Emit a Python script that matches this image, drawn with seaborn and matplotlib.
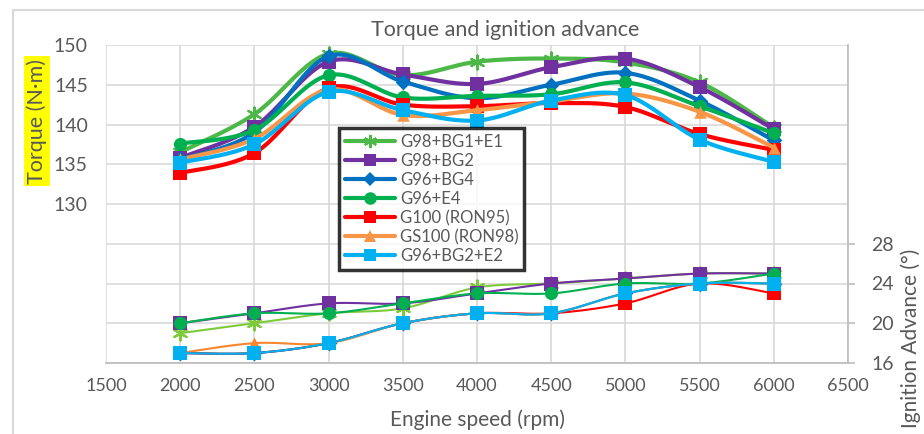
import numpy as np
import pandas as pd
import matplotlib
matplotlib.use("Agg")
import matplotlib.pyplot as plt
from matplotlib.lines import Line2D
import seaborn as sns

# ---------------- data ----------------
rpm = [2000, 2500, 3000, 3500, 4000, 4500, 5000, 5500, 6000]
series_names = ["G98+BG1+E1", "G98+BG2", "G96+BG4", "G96+E4",
                "G100 (RON95)", "GS100 (RON98)", "G96+BG2+E2"]

torque_g98_bg1_e1 = [136.5, 141.3, 148.9, 146.2, 147.9, 148.3, 147.8, 145.3, 139.6]
torque_g98_bg2 = [135.8, 139.7, 147.9, 146.3, 145.1, 147.2, 148.3, 144.7, 139.4]
torque_g96_bg4 = [135.6, 139.0, 148.6, 145.4, 143.3, 145.0, 146.5, 143.0, 138.0]
torque_g96_e4 = [137.6, 139.3, 146.2, 143.4, 143.6, 143.8, 145.3, 142.3, 138.9]
torque_g100 = [133.9, 136.4, 144.6, 142.5, 142.3, 142.7, 142.2, 138.8, 136.8]
torque_gs100 = [135.6, 138.2, 144.4, 141.2, 141.8, 142.9, 143.9, 141.6, 137.1]
torque_g96_bg2_e2 = [135.2, 137.5, 144.1, 141.8, 140.5, 143.0, 143.7, 138.1, 135.3]

ign_g98_bg1_e1 = [19, 20, 21, 21.5, 23.6, 24, 24.5, 25, 25]
ign_g98_bg2 = [20, 21, 22, 22, 23, 24, 24.5, 25, 25]
ign_g96_bg4 = [17, 17, 18, 20, 21, 21, 23, 24, 24]
ign_g96_e4 = [20, 21, 21, 22, 23, 23, 24, 24, 25]
ign_g100 = [17, 17, 18, 20, 21, 21, 22, 24, 23]
ign_gs100 = [17, 18, 18, 20, 21, 21, 23, 24, 24]
ign_g96_bg2_e2 = [17, 17, 18, 20, 21, 21, 23, 24, 24]

left_ticks = [110, 115, 120, 125, 130, 135, 140, 145, 150]
left_tick_labels = ["", "", "", "", "130", "135", "140", "145", "150"]
right_ticks = [16, 20, 24, 28]
x_ticks = [1500, 2000, 2500, 3000, 3500, 4000, 4500, 5000, 5500, 6000, 6500]

torque = [torque_g98_bg1_e1, torque_g98_bg2, torque_g96_bg4, torque_g96_e4,
          torque_g100, torque_gs100, torque_g96_bg2_e2]
ignition = [ign_g98_bg1_e1, ign_g98_bg2, ign_g96_bg4, ign_g96_e4,
            ign_g100, ign_gs100, ign_g96_bg2_e2]

# ---------------- style ----------------
top_colors = ["#4CB847", "#7030A0", "#0070C0", "#00B050", "#FF0000", "#F79646", "#00B0F0"]
low_colors = ["#7DCB3A", "#7030A0", "#0070C0", "#00B050", "#FF0000", "#F7862E", "#00B0F0"]
ASTER = (6, 2, 0)
markers = [ASTER, "s", "D", "o", "s", "^", "s"]
msizes = [10, 9.5, 8, 9.5, 9.5, 9, 9.5]

sns.set_theme(style="white")
plt.rcParams["font.family"] = ["Lato", "DejaVu Sans"]
GRAY = "#595959"


def smooth(x, y, n=25):
    """Excel-like smoothed line: cubic Bezier through points (Catmull-Rom)."""
    p = np.column_stack([np.asarray(x, float), np.asarray(y, float)])
    m = len(p)
    out = []
    t = np.linspace(0, 1, n)[:, None]
    for i in range(m - 1):
        p0 = p[max(i - 1, 0)]
        p1 = p[i]
        p2 = p[i + 1]
        p3 = p[min(i + 2, m - 1)]
        c1 = p1 + (p2 - p0) / 6.0
        c2 = p2 - (p3 - p1) / 6.0
        seg = ((1 - t) ** 3) * p1 + 3 * ((1 - t) ** 2) * t * c1 + 3 * (1 - t) * t ** 2 * c2 + t ** 3 * p2
        out.append(seg if i == 0 else seg[1:])
    s = np.vstack(out)
    return s[:, 0], s[:, 1]


fig = plt.figure(figsize=(9.24, 4.34), dpi=100)
ax = fig.add_axes([106 / 924, 1 - 363 / 434, (848 - 106) / 924, (363 - 45) / 434])
ax2 = ax.twinx()


def draw(axis, ys, colors, lw, z0):
    for i, (yv, c, mk, ms) in enumerate(zip(ys, colors, markers, msizes)):
        sx, sy = smooth(rpm, yv)
        df = pd.DataFrame({"x": sx, "y": sy})
        sns.lineplot(data=df, x="x", y="y", ax=axis, color=c, linewidth=lw,
                     sort=False, estimator=None, zorder=z0 + 2 * i)
        dm = pd.DataFrame({"x": rpm, "y": yv})
        size = ms ** 2
        if mk == ASTER:
            sns.scatterplot(data=dm, x="x", y="y", ax=axis, marker=mk, s=size,
                            color=c, edgecolor=c, linewidth=1.6, zorder=z0 + 2 * i + 1)
        else:
            sns.scatterplot(data=dm, x="x", y="y", ax=axis, marker=mk, s=size,
                            color=c, edgecolor=c, linewidth=0, zorder=z0 + 2 * i + 1)


draw(ax, torque, top_colors, 3.0, 3)
draw(ax2, ignition, low_colors, 1.5, 3)

# axes formatting
ax.set_xlim(1500, 6500)
ax.set_ylim(110, 150)
ax2.set_ylim(16, 48)
ax.set_xticks(x_ticks)
ax.set_xticklabels([str(v) for v in x_ticks])
ax.set_yticks(left_ticks)
ax.set_yticklabels(left_tick_labels)
ax2.set_yticks(right_ticks)
ax2.set_yticklabels([str(v) for v in right_ticks])
ax.set_xlabel("")
ax.set_ylabel("")
ax2.set_ylabel("")

ax.grid(True, color="#D9D9D9", linewidth=1.2)
ax.set_axisbelow(True)
ax2.grid(False)
for sp in ["top", "left"]:
    ax.spines[sp].set_visible(False)
    ax2.spines[sp].set_visible(False)
ax.spines["right"].set_visible(False)
ax2.spines["bottom"].set_visible(False)
ax.spines["bottom"].set_color("#BFBFBF")
ax.spines["bottom"].set_linewidth(1.3)
ax2.spines["right"].set_color("#BFBFBF")
ax2.spines["right"].set_linewidth(1.3)

ax.tick_params(axis="y", length=0, labelsize=14, labelcolor=GRAY, pad=13)
ax.tick_params(axis="x", length=0, labelsize=13, labelcolor=GRAY, pad=11)
ax2.tick_params(axis="y", length=5, width=1.2, color="#BFBFBF", labelsize=14,
                labelcolor=GRAY, pad=12, direction="out")

# titles / labels
fig.text(505 / 924, 1 - 30 / 434, "Torque and ignition advance", ha="center",
         va="center", fontsize=15.5, color=GRAY)
fig.text(477 / 924, 1 - 420 / 434, "Engine speed (rpm)", ha="center",
         va="center", fontsize=15, color=GRAY)
fig.text(37 / 924, 1 - 121 / 434, "Torque (N·m)", rotation=90, ha="center",
         va="center", fontsize=15.5, color=GRAY,
         bbox=dict(facecolor="#FFFF00", edgecolor="none", pad=2))
fig.text(911 / 924, 1 - 338 / 434, "Ignition Advance (°)", rotation=90, ha="center",
         va="center", fontsize=15, color=GRAY)

# chart border (Excel chart area)
fig.add_artist(Line2D([13 / 924, 13 / 924], [0, 1 - 10 / 434], color="#D9D9D9",
                      linewidth=1.5, transform=fig.transFigure))
fig.add_artist(Line2D([13 / 924, 1], [1 - 10 / 434, 1 - 10 / 434], color="#D9D9D9",
                      linewidth=1.5, transform=fig.transFigure))

# legend
handles = [Line2D([0], [0], color=c, linewidth=3, marker=m, markersize=ms * 0.95,
                  markeredgewidth=(1.5 if m == ASTER else 0), markeredgecolor=c)
           for c, m, ms in zip(top_colors, markers, msizes)]
leg = ax2.legend(handles, series_names, loc="upper left",
                 bbox_to_anchor=((339 - 106) / 742, (363 - 128) / 318),
                 frameon=True, fontsize=12, handlelength=3.0, handletextpad=0.3,
                 labelspacing=0.18, borderpad=0.35, fancybox=False, shadow=False,
                 borderaxespad=0)
leg.get_frame().set_edgecolor("black")
leg.get_frame().set_linewidth(2.5)
for t in leg.get_texts():
    t.set_color(GRAY)
leg.set_zorder(100)

fig.savefig("out.png", dpi=100)
